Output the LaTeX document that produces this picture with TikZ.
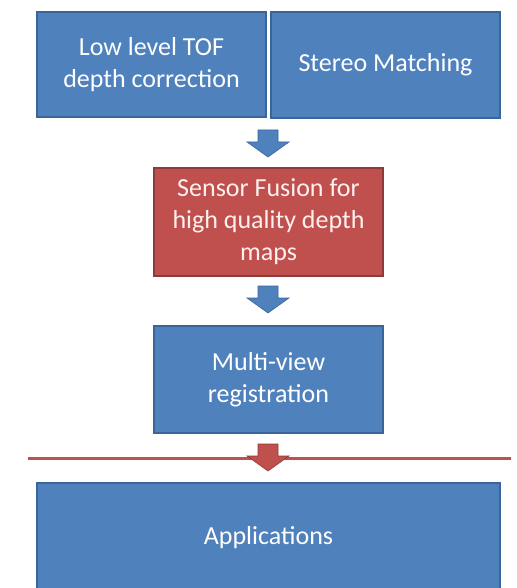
\documentclass[tikz,border=0pt]{standalone}
\usepackage{fontspec}
\setmainfont{Carlito}
\usetikzlibrary{calc}
\definecolor{boxblue}{HTML}{4F81BD}
\definecolor{edgeblue}{HTML}{3A659B}
\definecolor{boxred}{HTML}{C0504D}
\definecolor{edgered}{HTML}{8F3A38}
\definecolor{linered}{HTML}{C0504D}
\tikzset{
  stage/.style={draw=edgeblue, fill=boxblue, line width=1.5pt, text=white,
    align=center, inner sep=0pt, minimum width=229pt,
    font=\fontsize{26}{32}\selectfont},
  fusionbox/.style={stage, draw=edgered, fill=boxred, text=red!6},
  downarrow/.pic={
    \path[pic actions] (-10,0) -- (10,0) -- (10,12) -- (21,12) -- (0,27)
      -- (-21,12) -- (-10,12) -- cycle;},
}
\begin{document}
\begin{tikzpicture}[x=1pt,y=-1pt]
\useasboundingbox (0,0) rectangle (516,588);
\clip (0,0) rectangle (516,588);

% input stages
\node[stage, minimum height=105pt] (tof) at (151.5,64.5)
  {Low level TOF\\depth correction};
\node[stage, minimum height=106pt] (stereo) at (385.5,65)
  {Stereo Matching};

% fusion and registration
\node[fusionbox, minimum height=108pt] (fusion) at (268.5,222)
  {Sensor Fusion for\\high quality depth\\maps};
\node[stage, minimum height=107pt] (mvreg) at (268.5,379.5)
  {Multi-view\\registration};

% separator line
\coordinate (sepL) at (28,458);
\coordinate (sepR) at (511,458);
\draw[linered, line width=3pt] (sepL) -- (sepR);

% applications
\node[stage, minimum width=463pt, minimum height=110pt] (apps) at (268.5,538)
  {Applications};

% block arrows between the stages
\pic[fill=boxblue, draw=edgeblue, line width=0.6pt] at (268,130) {downarrow};
\pic[fill=boxblue, draw=edgeblue, line width=0.6pt] at (268,286) {downarrow};
\pic[fill=boxred, draw=edgered, line width=0.6pt] at (268,444) {downarrow};
\end{tikzpicture}
\end{document}
